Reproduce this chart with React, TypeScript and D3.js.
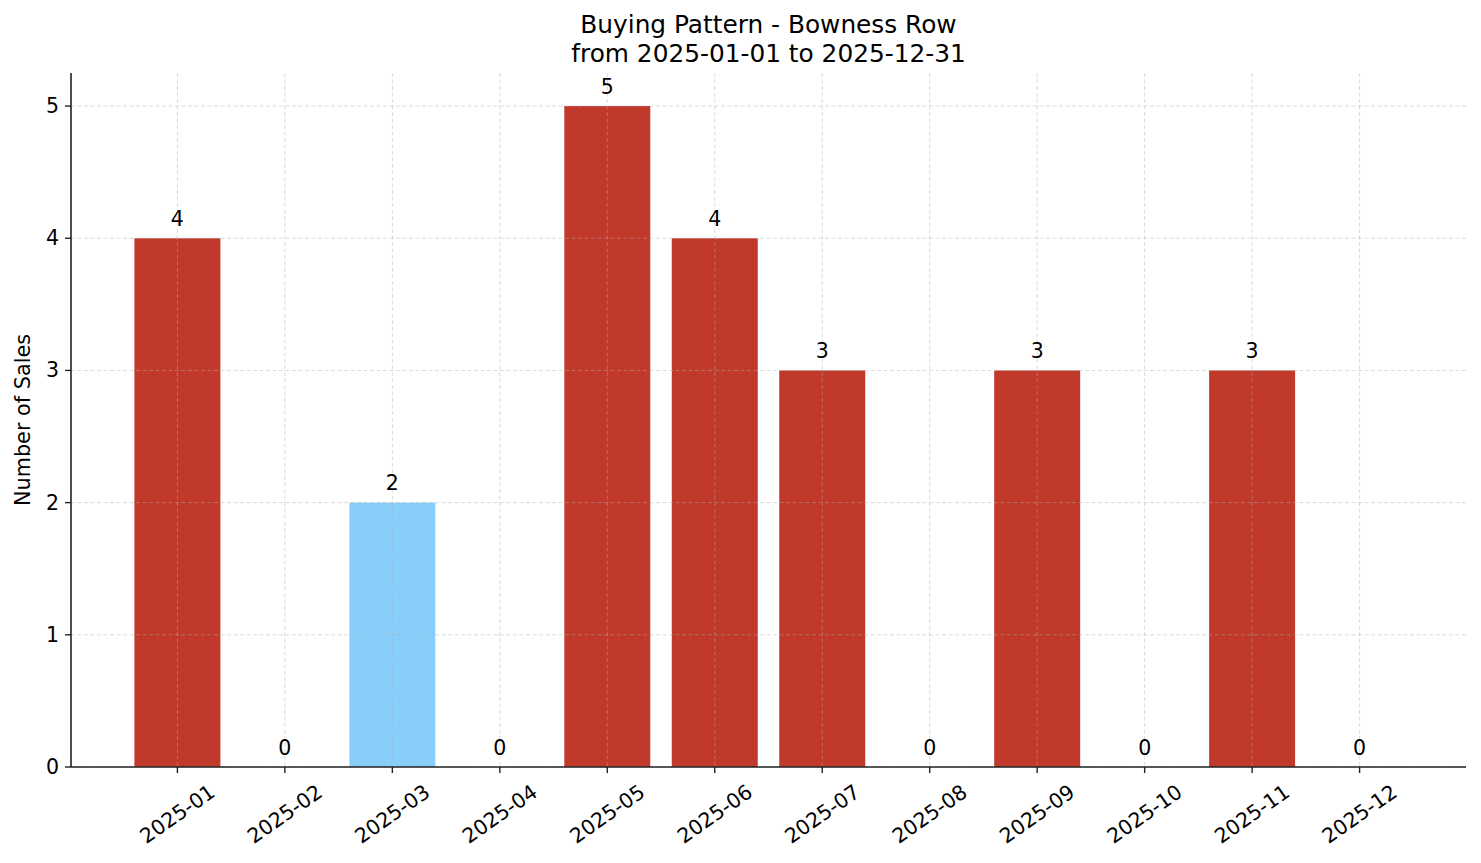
import * as d3 from "d3";

const months = [
  "2025-01", "2025-02", "2025-03", "2025-04", "2025-05", "2025-06",
  "2025-07", "2025-08", "2025-09", "2025-10", "2025-11", "2025-12",
];
const sales = [4, 0, 2, 0, 5, 4, 3, 0, 3, 0, 3, 0];
const highlighted = ["2025-03"];
const yTicks = [0, 1, 2, 3, 4, 5];

const W = 1481;
const H = 863;
const FONT = "'DejaVu Sans', sans-serif";

function App() {
  const margin = { top: 73, right: 15, bottom: 96, left: 71 };
  const x = d3
    .scaleLinear()
    .domain([-0.99, months.length - 1 + 0.99])
    .range([margin.left, W - margin.right]);
  const y = d3
    .scaleLinear()
    .domain([0, 5.25])
    .range([H - margin.bottom, margin.top]);
  const barW = x(0.4) - x(-0.4);
  const y0 = y(0);

  return (
    <svg
      width={W}
      height={H}
      style={{ position: "absolute", left: 0, top: 0, background: "#fff" }}
      fontFamily={FONT}
    >
      {/* bars */}
      {sales.map((v, i) => (
        <rect
          key={months[i]}
          x={x(i) - barW / 2}
          y={y(v)}
          width={barW}
          height={y0 - y(v)}
          fill={highlighted.includes(months[i]) ? "#87cefa" : "#c0392b"}
        />
      ))}

      {/* grid, drawn on top of bars */}
      <g stroke="#b0b0b0" strokeOpacity={0.5} strokeWidth={0.9} strokeDasharray="4,2.5">
        {yTicks.map((t) => (
          <line key={"gy" + t} x1={x.range()[0]} x2={x.range()[1]} y1={y(t)} y2={y(t)} />
        ))}
        {months.map((m, i) => (
          <line key={"gx" + m} x1={x(i)} x2={x(i)} y1={y.range()[1]} y2={y0} />
        ))}
      </g>

      {/* value labels */}
      {sales.map((v, i) => (
        <text
          key={"v" + months[i]}
          x={x(i)}
          y={y(v) - 12.5}
          textAnchor="middle"
          fontSize={20.5}
          fill="#000"
        >
          {v}
        </text>
      ))}

      {/* spines */}
      <line x1={x.range()[0]} x2={x.range()[0]} y1={y.range()[1]} y2={y0} stroke="#222" strokeWidth={1.6} />
      <line x1={x.range()[0]} x2={x.range()[1]} y1={y0} y2={y0} stroke="#222" strokeWidth={1.6} />

      {/* y ticks */}
      {yTicks.map((t) => (
        <g key={"yt" + t}>
          <line x1={x.range()[0] - 6} x2={x.range()[0]} y1={y(t)} y2={y(t)} stroke="#222" strokeWidth={1.4} />
          <text
            x={x.range()[0] - 12}
            y={y(t)}
            textAnchor="end"
            dominantBaseline="central"
            fontSize={20.5}
            fill="#000"
          >
            {t}
          </text>
        </g>
      ))}

      {/* x ticks */}
      {months.map((m, i) => (
        <g key={"xt" + m}>
          <line x1={x(i)} x2={x(i)} y1={y0} y2={y0 + 6} stroke="#222" strokeWidth={1.4} />
          <text
            transform={`translate(${x(i)},${y0 + 47}) rotate(-35)`}
            textAnchor="middle"
            dominantBaseline="central"
            fontSize={20.5}
            fill="#000"
          >
            {m}
          </text>
        </g>
      ))}

      {/* y label */}
      <text
        transform={`translate(23,${(y.range()[1] + y0) / 2}) rotate(-90)`}
        textAnchor="middle"
        dominantBaseline="central"
        fontSize={20.8}
        fill="#000"
      >
        Number of Sales
      </text>

      {/* title */}
      <text x={(x.range()[0] + x.range()[1]) / 2} y={33} textAnchor="middle" fontSize={24.8} fill="#000">
        Buying Pattern - Bowness Row
      </text>
      <text x={(x.range()[0] + x.range()[1]) / 2} y={62} textAnchor="middle" fontSize={24.8} fill="#000">
        from 2025-01-01 to 2025-12-31
      </text>
    </svg>
  );
}

export default App;
